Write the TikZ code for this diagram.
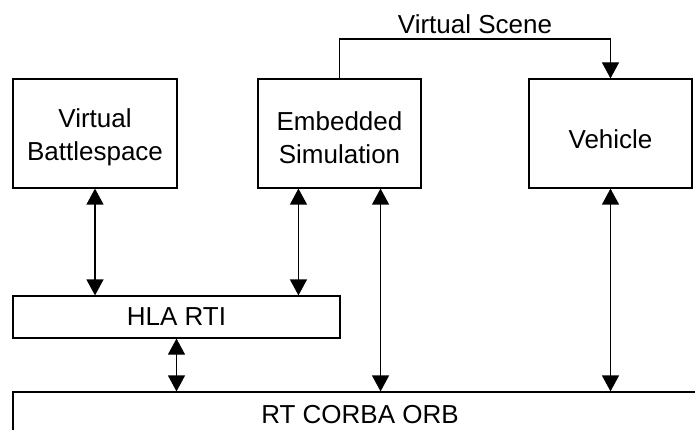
\documentclass[tikz,border=0pt]{standalone}
\usepackage{fontspec}
\setmainfont{Liberation Sans}
\usetikzlibrary{positioning,calc,arrows.meta}

\tikzset{
  block/.style={draw, line width=1.2pt, align=center, inner sep=0pt},
  link/.style={line width=1.2pt, {Triangle[width=17pt,length=16pt]}-{Triangle[width=17pt,length=16pt]}},
  onelink/.style={line width=1.2pt, -{Triangle[width=17pt,length=16pt]}}
}

\begin{document}
\begin{tikzpicture}[x=1pt, y=-1pt, font=\fontsize{26}{33}\selectfont]
  \clip (0,0) rectangle (695,430);

  \node[block, minimum width=164pt, minimum height=109pt] (vb) at (95,133.5) {\rule{0pt}{27pt}Virtual\\Battlespace};
  \node[block, minimum width=163pt, minimum height=109pt] (es) at (339.5,133.5) {\rule{0pt}{27pt}Embedded\\Simulation};
  \node[block, minimum width=163pt, minimum height=109pt] (veh) at (610.5,133.5) {\rule{0pt}{31pt}Vehicle};
  \node[block, minimum width=327pt, minimum height=42pt] (hla) at (176.5,317) {HLA RTI};
  \node[block, minimum width=694pt, minimum height=46pt] (orb) at (360,415) {RT CORBA ORB};

  \path
  ($(es.south west)!.25!(es.south east)$) coordinate (esA)
  ($(es.south west)!.75!(es.south east)$) coordinate (esB)
  (475,39) coordinate (vs);

  \draw[onelink] (es.north) |- (vs) -| (veh.north);
  \node[above=2pt of vs] (vslabel) {Virtual Scene};

  \draw[link] (vb.south) -- (vb.south |- hla.north);
  \draw[link] (esA) -- (esA |- hla.north);
  \draw[link] (hla.south) -- (hla.south |- orb.north);
  \draw[link] (esB) -- (esB |- orb.north);
  \draw[link] (veh.south) -- (veh.south |- orb.north);
\end{tikzpicture}
\end{document}
